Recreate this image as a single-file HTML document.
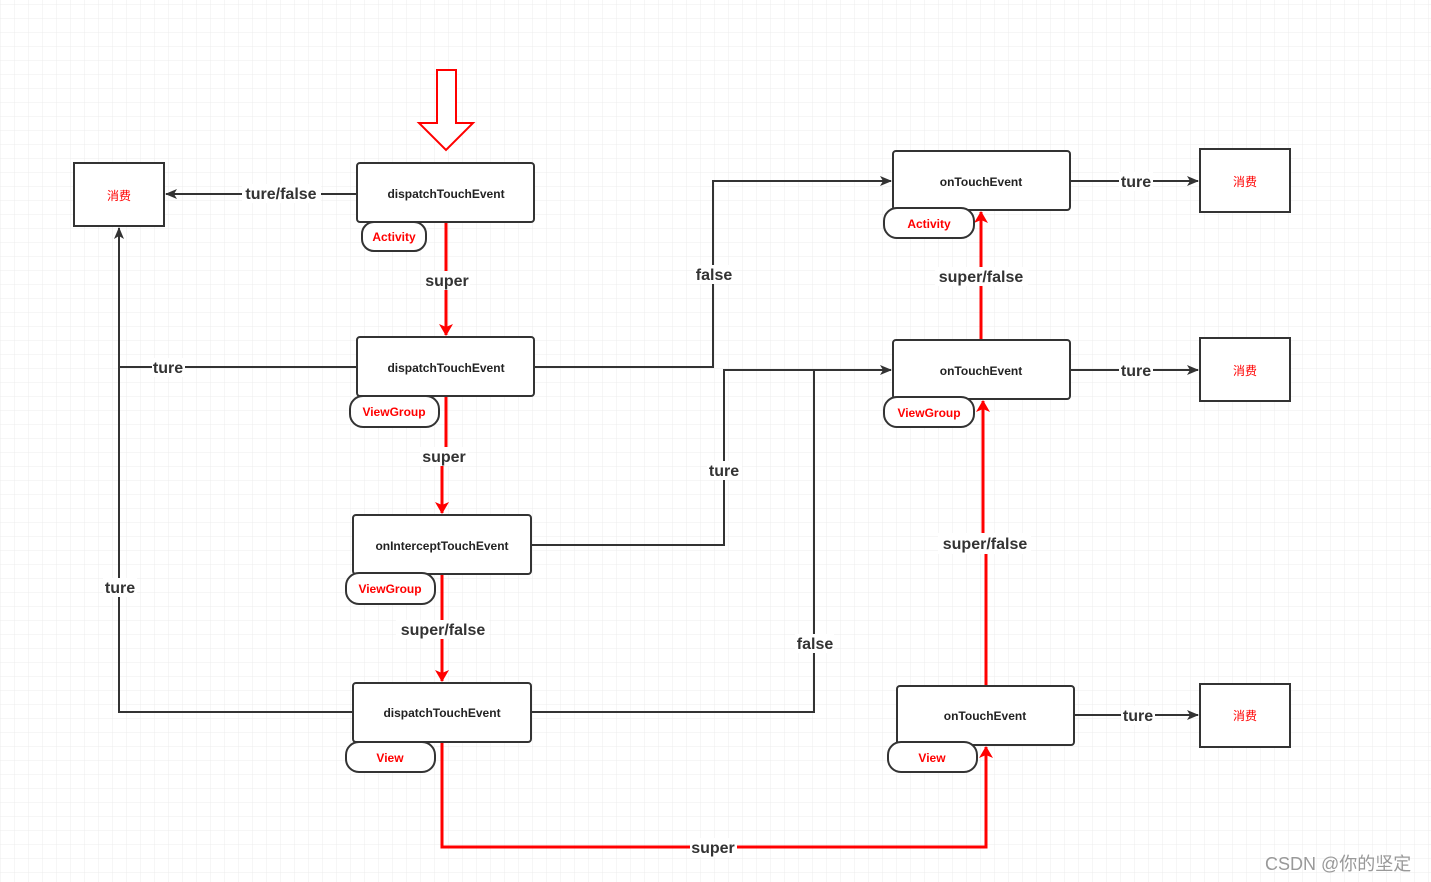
<!DOCTYPE html>
<html><head><meta charset="utf-8"><style>
html,body{margin:0;padding:0;background:#fff;}
svg{display:block;}
.t{font-family:"Liberation Sans","Noto Sans CJK SC",sans-serif;}
</style></head><body>
<svg class="t" width="1431" height="882" viewBox="0 0 1431 882" xmlns="http://www.w3.org/2000/svg">
<defs>
<pattern id="g" width="14" height="14" patternUnits="userSpaceOnUse" x="1" y="5">
<path d="M14 0V14M0 14H14" stroke="#ececec" stroke-width="1" fill="none"/>
</pattern>
<marker id="ab" markerWidth="12" markerHeight="10" refX="11" refY="5" orient="auto" markerUnits="userSpaceOnUse"><path d="M0,0L12,5L0,10L3,5Z" fill="#333"/></marker>
<marker id="ar" markerWidth="12" markerHeight="14" refX="11" refY="7" orient="auto" markerUnits="userSpaceOnUse"><path d="M0,0L12,7L0,14L3,7Z" fill="#f00"/></marker>
</defs>
<rect width="1431" height="882" fill="url(#g)"/>

<g stroke="#333" stroke-width="2" fill="none">
<path d="M357 194H166" marker-end="url(#ab)"/>
<path d="M357 367H119V228" marker-end="url(#ab)"/>
<path d="M353 712H119V367"/>
<path d="M534 367H713V181H891" marker-end="url(#ab)"/>
<path d="M531 545H724V370H891" marker-end="url(#ab)"/>
<path d="M531 712H814V370"/>
<path d="M1070 181H1198" marker-end="url(#ab)"/>
<path d="M1070 370H1198" marker-end="url(#ab)"/>
<path d="M1074 715H1198" marker-end="url(#ab)"/>
</g>
<g stroke="#f00" stroke-width="3" fill="none">
<path d="M446 222V335" marker-end="url(#ar)"/>
<path d="M446 396V455H442V513" marker-end="url(#ar)"/>
<path d="M442 574V681" marker-end="url(#ar)"/>
<path d="M442 742V847H986V747" marker-end="url(#ar)"/>
<path d="M986 686V543H983V401" marker-end="url(#ar)"/>
<path d="M981 340V212" marker-end="url(#ar)"/>
</g>
<path d="M437 70H456V123H473L446 150L419 123H437Z" fill="#fff" stroke="#f00" stroke-width="2"/>

<g stroke="#333" stroke-width="2" fill="#fff">
<rect x="357" y="163" width="177" height="59" rx="3"/>
<rect x="357" y="337" width="177" height="59" rx="3"/>
<rect x="353" y="515" width="178" height="59" rx="3"/>
<rect x="353" y="683" width="178" height="59" rx="3"/>
<rect x="893" y="151" width="177" height="59" rx="3"/>
<rect x="893" y="340" width="177" height="59" rx="3"/>
<rect x="897" y="686" width="177" height="59" rx="3"/>
<rect x="74" y="163" width="90" height="63"/>
<rect x="1200" y="149" width="90" height="63"/>
<rect x="1200" y="338" width="90" height="63"/>
<rect x="1200" y="684" width="90" height="63"/>
<rect x="362" y="222" width="64" height="29" rx="12"/>
<rect x="350" y="396" width="89" height="31" rx="13"/>
<rect x="346" y="573" width="89" height="31" rx="13"/>
<rect x="346" y="742" width="89" height="30" rx="13"/>
<rect x="884" y="208" width="90" height="30" rx="13"/>
<rect x="884" y="397" width="90" height="30" rx="13"/>
<rect x="888" y="742" width="89" height="30" rx="13"/>
</g>
<g font-size="12" font-weight="bold" fill="#222" text-anchor="middle">
<text x="446" y="198">dispatchTouchEvent</text>
<text x="446" y="372">dispatchTouchEvent</text>
<text x="442" y="550">onInterceptTouchEvent</text>
<text x="442" y="717">dispatchTouchEvent</text>
<text x="981" y="186">onTouchEvent</text>
<text x="981" y="375">onTouchEvent</text>
<text x="985" y="720">onTouchEvent</text>
</g>
<g font-size="12" font-weight="bold" fill="#f00" text-anchor="middle">
<text x="394" y="241">Activity</text>
<text x="394" y="416">ViewGroup</text>
<text x="390" y="593">ViewGroup</text>
<text x="390" y="762">View</text>
<text x="929" y="228">Activity</text>
<text x="929" y="417">ViewGroup</text>
<text x="932" y="762">View</text>
<text x="119" y="200" font-weight="normal">消费</text>
<text x="1245" y="186" font-weight="normal">消费</text>
<text x="1245" y="375" font-weight="normal">消费</text>
<text x="1245" y="720" font-weight="normal">消费</text>
</g>
<g font-size="16" font-weight="bold" fill="#333" text-anchor="middle">
<g fill="#fff" stroke="none">
<rect x="242" y="184" width="79" height="19"/>
<rect x="424" y="271" width="46" height="19"/>
<rect x="152" y="358" width="33" height="19"/>
<rect x="103" y="578" width="34" height="19"/>
<rect x="694" y="265" width="39" height="19"/>
<rect x="420" y="447" width="48" height="19"/>
<rect x="707" y="461" width="35" height="19"/>
<rect x="396" y="620" width="93" height="19"/>
<rect x="795" y="634" width="39" height="19"/>
<rect x="690" y="838" width="47" height="19"/>
<rect x="938" y="533" width="93" height="21"/>
<rect x="935" y="267" width="93" height="19"/>
<rect x="1119" y="172" width="34" height="19"/>
<rect x="1119" y="361" width="34" height="19"/>
<rect x="1121" y="706" width="34" height="19"/>
</g>
<text x="281" y="199">ture/false</text>
<text x="447" y="286">super</text>
<text x="168" y="373">ture</text>
<text x="120" y="593">ture</text>
<text x="714" y="280">false</text>
<text x="444" y="462">super</text>
<text x="724" y="476">ture</text>
<text x="443" y="635">super/false</text>
<text x="815" y="649">false</text>
<text x="713" y="853">super</text>
<text x="985" y="549">super/false</text>
<text x="981" y="282">super/false</text>
<text x="1136" y="187">ture</text>
<text x="1136" y="376">ture</text>
<text x="1138" y="721">ture</text>
</g>
<text x="1265" y="870" font-size="18" fill="#999">CSDN @你的坚定</text>
</svg>
</body></html>
